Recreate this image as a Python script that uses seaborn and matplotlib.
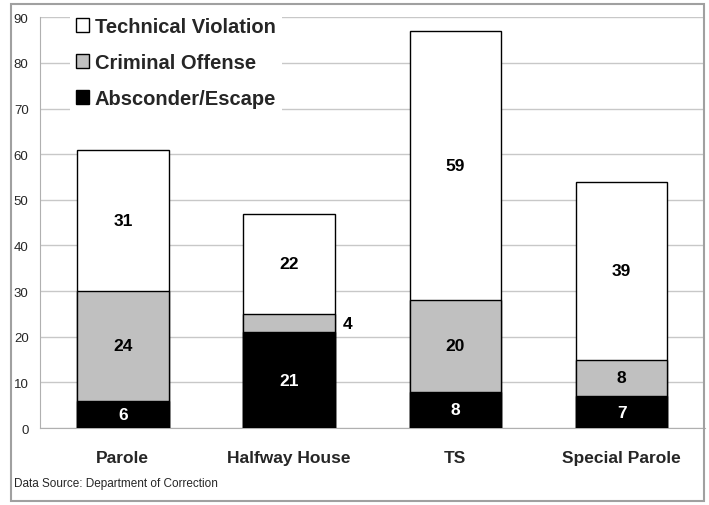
import matplotlib
matplotlib.use("Agg")
import matplotlib.pyplot as plt
from matplotlib.patches import Patch, Rectangle
import numpy as np
import pandas as pd
import seaborn as sns

categories = ["Parole", "Halfway House", "TS", "Special Parole"]
absconder = [6, 21, 8, 7]
criminal = [24, 4, 20, 8]
technical = [31, 22, 59, 39]

sns.set_style("white")
plt.rcParams['font.family'] = ['Liberation Sans', 'DejaVu Sans']

df = pd.DataFrame({'cat': categories, 'abs': absconder, 'crim': criminal, 'tech': technical})
df['lvl1'] = df['abs']
df['lvl2'] = df['abs'] + df['crim']
df['lvl3'] = df['lvl2'] + df['tech']

fig = plt.figure(figsize=(7.09, 5.06), dpi=100)
ax = fig.add_axes([0.056, 0.152, 0.938, 0.812])

for col, color in [('lvl3', 'white'), ('lvl2', '#c0c0c0'), ('lvl1', 'black')]:
    sns.barplot(data=df, x='cat', y=col, color=color, edgecolor='black',
                linewidth=1, width=0.55, saturation=1, errorbar=None, ax=ax, zorder=3)

# segment labels
for i in range(len(categories)):
    a, c, t = absconder[i], criminal[i], technical[i]
    ax.text(i, a / 2, str(a), ha='center', va='center', color='white',
            fontsize=12.5, fontweight='bold', zorder=5)
    if c >= 6:
        ax.text(i, a + c / 2, str(c), ha='center', va='center', color='black',
                fontsize=12.5, fontweight='bold', zorder=5)
    else:
        ax.text(i + 0.35, a + c / 2, str(c), ha='center', va='center', color='black',
                fontsize=12.5, fontweight='bold', zorder=5)
    ax.text(i, a + c + t / 2, str(t), ha='center', va='center', color='black',
            fontsize=12.5, fontweight='bold', zorder=5)

ax.set_ylim(0, 90)
ax.set_xlim(-0.5, 3.5)
ax.set_yticks(np.arange(0, 91, 10))
ax.yaxis.grid(True, color='#c8c8c8', linewidth=1, zorder=0)
ax.set_axisbelow(True)
ax.set_xlabel('')
ax.set_ylabel('')
for s in ['top', 'right']:
    ax.spines[s].set_visible(False)
for s in ['left', 'bottom']:
    ax.spines[s].set_color('#b0b0b0')
ax.tick_params(axis='y', length=4, color='#b0b0b0', labelsize=9.5, pad=4)
ax.tick_params(axis='x', length=0, labelsize=12.5, pad=16)
ax.set_xticks(np.arange(-0.5, 4, 1), minor=True)
ax.tick_params(axis='x', which='minor', length=4, color='#b0b0b0')
for lbl in ax.get_xticklabels():
    lbl.set_fontweight('bold')

handles = [Patch(facecolor='white', edgecolor='black', label='Technical Violation'),
           Patch(facecolor='#c0c0c0', edgecolor='black', label='Criminal Offense'),
           Patch(facecolor='black', edgecolor='black', label='Absconder/Escape')]
leg = ax.legend(handles=handles, loc='upper left', bbox_to_anchor=(0.03, 1.04),
                prop={'weight': 'bold', 'size': 14.5}, frameon=True, framealpha=1,
                edgecolor='none', fancybox=False, handlelength=0.65, handleheight=0.65,
                handletextpad=0.3, labelspacing=0.85, borderpad=0.3)
leg.set_zorder(6)

fig.text(0.02, 0.038, 'Data Source: Department of Correction', fontsize=8.5)
fig.patches.append(Rectangle((0.015, 0.008), 0.978, 0.982, transform=fig.transFigure,
                             fill=False, edgecolor='#a0a0a0', linewidth=1.5))

fig.savefig('out.png', dpi=100)
